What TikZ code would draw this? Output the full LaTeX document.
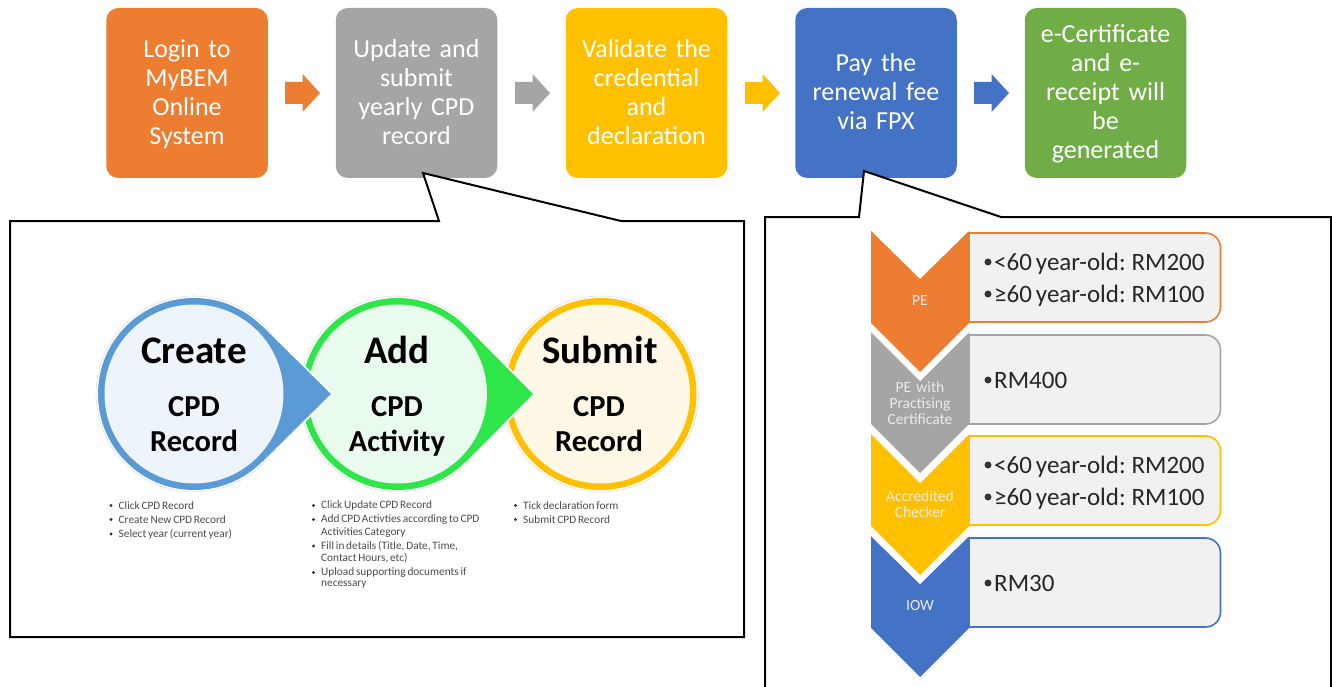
\documentclass[tikz,border=0pt]{standalone}
\usepackage{fontspec}
\setmainfont{Carlito}[WordSpace=0.7]
\definecolor{cOrange}{HTML}{ED7D31}
\definecolor{cGray}{HTML}{A5A5A5}
\definecolor{cGold}{HTML}{FFC000}
\definecolor{cBlue}{HTML}{4472C4}
\definecolor{cGreen}{HTML}{70AD47}
\definecolor{cSky}{HTML}{5B9BD5}
\definecolor{cLime}{HTML}{2EE64A}
\definecolor{cPanel}{HTML}{F1F1F1}
\definecolor{tintA}{HTML}{EEF4FB}
\definecolor{tintB}{HTML}{E9FBEC}
\definecolor{tintC}{HTML}{FFF8E6}
\newcommand{\fs}[2]{\fontsize{#1}{#2}\selectfont}
\newcommand{\tb}{\rule{0pt}{22pt}}
\newcommand{\te}{\rule[-6pt]{0pt}{6pt}}
\tikzset{
  x=1pt,y=-1pt,
  stepbox/.style={rounded corners=12pt,minimum width=161.5pt,minimum height=170pt,inner sep=0pt,text=white,align=center,font=\fs{26}{29},text width=155pt},
  callout/.style={draw=black,line width=2pt,fill=white,line join=miter},
  bigword/.style={font=\fs{39}{39}\bfseries,text=black,anchor=base,inner sep=0pt},
  midword/.style={font=\fs{30.5}{30.5}\bfseries,text=black,anchor=base,inner sep=0pt},
  note/.style={font=\fs{11.3}{11.3},text=black!70,anchor=west,inner sep=0pt},
  dotmark/.style={circle,fill=black!80,minimum size=3.2pt,inner sep=0pt},
  chevlabel/.style={font=\fs{15.5}{16},text=white!92!black,align=center,inner sep=0pt,anchor=center},
  paneltext/.style={font=\fs{25}{25},text=black!85,anchor=base west,inner sep=0pt},
}
\begin{document}
\begin{tikzpicture}
\useasboundingbox (0,0) rectangle (1332,687);
\fill[white] (0,0) rectangle (1332,687);

% steps
\node[stepbox,fill=cOrange] (s1) at (187,93) {\tb Login to\\MyBEM\\Online\\System\te};
\node[stepbox,fill=cGray] (s2) at (416.5,93) {\tb Update and\\submit\\yearly CPD\\record\te};
\node[stepbox,fill=cGold] (s3) at (646.5,93) {\tb Validate the\\credential\\and\\declaration\te};
\node[stepbox,fill=cBlue] (s4) at (876,93) {\tb Pay the\\renewal fee\\via FPX\te};
\node[stepbox,fill=cGreen] (s5) at (1105.5,93) {\tb e-Certificate\\and e-\\receipt will\\be\\generated\te};

% callouts
\draw[callout] (10,221) -- (439,221) -- (423,173) -- (621,221) -- (744,221) -- (744,637) -- (10,637) -- cycle;
\draw[callout] (765,217) -- (859,217) -- (864,171) -- (1001,217) -- (1331,217) -- (1331,700) -- (765,700) -- cycle;

% arrows between steps
\foreach \ax/\col in {285/cOrange,515/cGray,745/cGold,974/cBlue}{
  \fill[\col] (\ax,82) -- (\ax+17.5,82) -- (\ax+17.5,74) -- (\ax+35,93) -- (\ax+17.5,112) -- (\ax+17.5,104) -- (\ax,104) -- cycle;
}

% gold circle
\fill[white] (600.5,394) circle (98);
\draw[black!12,line width=.6pt] (600.5,394) circle (98);
\fill[cGold] (600.5,394) circle (96);
\fill[tintC] (600.5,394) circle (89.5);
% green drop
\fill[white] (397.5,394) circle (98);
\fill[white] (466,325) -- (536,394) -- (466,463) -- cycle;
\draw[black!12,line width=.6pt] (397.5,394) circle (98);
\fill[cLime] (397.5,394) circle (96);
\fill[cLime] (465.5,326) -- (533,394) -- (465.5,462) -- cycle;
\fill[tintB] (397.5,394) circle (89.5);
% blue drop
\fill[white] (194,394) circle (98);
\fill[white] (263,325) -- (334,394) -- (263,463) -- cycle;
\draw[black!12,line width=.6pt] (194,394) circle (98);
\fill[cSky] (194,394) circle (96);
\fill[cSky] (262,326) -- (331,394) -- (262,462) -- cycle;
\fill[tintA] (194,394) circle (89.5);

\node[bigword] (w1) at (194,363) {Create};
\node[midword] (w2) at (194,416) {CPD};
\node[midword] (w3) at (194,451) {Record};
\node[bigword] (w4) at (397,363) {Add};
\node[midword] (w5) at (397,416) {CPD};
\node[midword] (w6) at (397,451) {Activity};
\node[bigword] (w7) at (600,363) {Submit};
\node[midword] (w8) at (599,416) {CPD};
\node[midword] (w9) at (599,451) {Record};

% notes
\foreach \ny/\txt [count=\i] in {505.5/{Click CPD Record},519.5/{Create New CPD Record},534/{Select year (current year)}}{
  \node[dotmark] (a\i) at (111,\ny) {};
  \node[note] (at\i) at (118.5,\ny) {\txt};
}
\foreach \ny/\txt [count=\i] in {505.5/{Click Update CPD Record},519.5/{Add CPD Activties according to CPD},546/{Fill in details (Title, Date, Time,},572.5/{Upload supporting documents if}}{
  \node[dotmark] (b\i) at (313.5,\ny) {};
  \node[note] (bt\i) at (321,\ny) {\txt};
}
\node[note] (bc1) at (321,532.5) {Activities Category};
\node[note] (bc2) at (321,558.5) {Contact Hours, etc)};
\node[note] (bc3) at (321,585) {necessary};
\foreach \ny/\txt [count=\i] in {505.5/{Tick declaration form},519.5/{Submit CPD Record}}{
  \node[dotmark] (c\i) at (515.5,\ny) {};
  \node[note] (ct\i) at (523,\ny) {\txt};
}

% fee panels
\foreach \py/\col in {233/cOrange,335/cGray,436/cGold,538/cBlue}{
  \draw[\col,line width=1.6pt,fill=cPanel] (969,\py) {[rounded corners=15pt] -- (1220.5,\py) -- (1220.5,\py+89)} -- (969,\py+89) -- cycle;
}
% chevrons
\fill[cBlue] (871,536) -- (920,584) -- (969,536) -- (969,628) -- (920,677) -- (871,628) -- cycle;
\fill[white] (871,526) -- (920,575) -- (969,526) -- (969,536) -- (920,584) -- (871,536) -- cycle;
\fill[cGold] (871,434) -- (920,483) -- (969,434) -- (969,526) -- (920,575) -- (871,526) -- cycle;
\fill[white] (871,424) -- (920,473) -- (969,424) -- (969,434) -- (920,483) -- (871,434) -- cycle;
\fill[cGray] (871,332) -- (920,381) -- (969,332) -- (969,424) -- (920,473) -- (871,424) -- cycle;
\fill[white] (871,323) -- (920,372) -- (969,323) -- (969,332) -- (920,381) -- (871,332) -- cycle;
\fill[cOrange] (871,231) -- (920,279) -- (969,231) -- (969,323) -- (920,372) -- (871,323) -- cycle;

\node[chevlabel] (p1) at (920,301) {PE};
\node[chevlabel,text width=90pt] (p2) at (920,403) {PE with\\Practising\\Certificate};
\node[chevlabel,text width=90pt] (p3) at (920,504) {Accredited\\Checker};
\node[chevlabel] (p4) at (920,606) {IOW};

\foreach \dy/\by/\txt [count=\i] in {262/270/{<60 year-old: RM200},294/302/{≥60 year-old: RM100},380/388/{RM400},465/473/{<60 year-old: RM200},497/505/{≥60 year-old: RM100},583/591/{RM30}}{
  \node[dotmark,minimum size=7pt] (f\i) at (988,\dy) {};
  \node[paneltext] (ft\i) at (994,\by) {\txt};
}
\end{tikzpicture}
\end{document}
